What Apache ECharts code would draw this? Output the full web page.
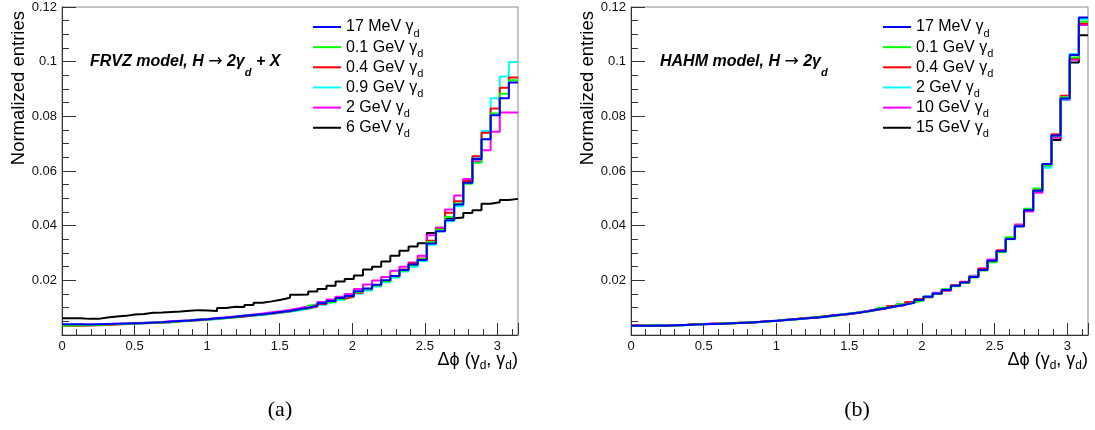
<!DOCTYPE html>
<html><head><meta charset="utf-8">
<script src="https://cdn.jsdelivr.net/npm/echarts@6/dist/echarts.min.js"></script>
<style>html,body{margin:0;padding:0;background:#fff}#c{width:1095px;height:430px}</style>
</head><body><div id="c"></div>
<script>
// ---------- data ----------
const nBins = 50;
const xTickLabels = ['0', '0.5', '1', '1.5', '2', '2.5', '3'];
const yTickLabels = ['0.02', '0.04', '0.06', '0.08', '0.1', '0.12'];
const leftLabels = ['17 MeV', '0.1 GeV', '0.4 GeV', '0.9 GeV', '2 GeV', '6 GeV'];
const rightLabels = ['17 MeV', '0.1 GeV', '0.4 GeV', '2 GeV', '10 GeV', '15 GeV'];
const seriesColors = ['#0000ff', '#00ff00', '#ff0000', '#00ffff', '#ff00ff', '#000000'];

// (a) FRVZ model
const frvz17MeV = [0.0039,0.0039,0.0038,0.0039,0.0040,0.0041,0.0042,0.0043,0.0044,0.0046,
  0.0047,0.0049,0.0051,0.0053,0.0056,0.0058,0.0061,0.0063,0.0067,0.0070,
  0.0073,0.0076,0.0080,0.0084,0.0088,0.0094,0.0100,0.0107,0.0116,0.0124,
  0.0135,0.0143,0.0160,0.0170,0.0184,0.0200,0.0216,0.0238,0.0258,0.0274,
  0.0335,0.0380,0.0420,0.0477,0.0557,0.0644,0.0716,0.0804,0.0866,0.0924];
const frvz01GeV = [0.0035,0.0036,0.0036,0.0037,0.0038,0.0040,0.0041,0.0042,0.0044,0.0046,
  0.0046,0.0048,0.0050,0.0053,0.0057,0.0058,0.0060,0.0062,0.0066,0.0071,
  0.0072,0.0075,0.0079,0.0083,0.0088,0.0092,0.0099,0.0108,0.0117,0.0122,
  0.0132,0.0142,0.0157,0.0168,0.0181,0.0197,0.0214,0.0236,0.0255,0.0277,
  0.0340,0.0385,0.0432,0.0481,0.0553,0.0630,0.0716,0.0810,0.0883,0.0932];
const frvz04GeV = [0.0034,0.0034,0.0035,0.0036,0.0037,0.0038,0.0040,0.0042,0.0043,0.0044,
  0.0046,0.0047,0.0050,0.0052,0.0054,0.0057,0.0059,0.0062,0.0065,0.0068,
  0.0071,0.0075,0.0078,0.0082,0.0087,0.0093,0.0098,0.0104,0.0113,0.0122,
  0.0133,0.0140,0.0155,0.0167,0.0182,0.0198,0.0216,0.0240,0.0262,0.0280,
  0.0345,0.0388,0.0447,0.0489,0.0563,0.0654,0.0740,0.0829,0.0905,0.0942];
const frvz09GeV = [0.0037,0.0037,0.0036,0.0037,0.0038,0.0039,0.0040,0.0041,0.0043,0.0044,
  0.0045,0.0047,0.0049,0.0051,0.0053,0.0056,0.0058,0.0061,0.0064,0.0067,
  0.0070,0.0073,0.0077,0.0081,0.0085,0.0090,0.0096,0.0103,0.0111,0.0119,
  0.0128,0.0138,0.0152,0.0163,0.0177,0.0193,0.0210,0.0232,0.0250,0.0270,
  0.0330,0.0380,0.0416,0.0471,0.0559,0.0650,0.0746,0.0866,0.0946,0.0999];
const frvz2GeV = [0.0037,0.0038,0.0038,0.0038,0.0040,0.0041,0.0042,0.0044,0.0045,0.0046,
  0.0048,0.0050,0.0052,0.0054,0.0057,0.0059,0.0062,0.0065,0.0068,0.0071,
  0.0075,0.0079,0.0083,0.0087,0.0092,0.0098,0.0105,0.0112,0.0121,0.0130,
  0.0140,0.0150,0.0168,0.0185,0.0199,0.0212,0.0235,0.0250,0.0265,0.0290,
  0.0365,0.0392,0.0459,0.0510,0.0571,0.0636,0.0676,0.0744,0.0814,0.0814];
const frvz6GeV = [0.0061,0.0061,0.0059,0.0059,0.0064,0.0068,0.0070,0.0075,0.0077,0.0081,
  0.0082,0.0084,0.0086,0.0089,0.0091,0.0090,0.0088,0.0099,0.0103,0.0102,
  0.0110,0.0118,0.0123,0.0129,0.0136,0.0147,0.0148,0.0159,0.0168,0.0180,
  0.0196,0.0205,0.0218,0.0240,0.0250,0.0269,0.0290,0.0308,0.0324,0.0336,
  0.0373,0.0392,0.0427,0.0430,0.0446,0.0456,0.0480,0.0486,0.0494,0.0498];

// (b) HAHM model
const hahm17MeV = [0.0034,0.0034,0.0035,0.0034,0.0036,0.0037,0.0038,0.0039,0.0040,0.0041,
  0.0043,0.0044,0.0046,0.0048,0.0050,0.0052,0.0055,0.0058,0.0060,0.0063,
  0.0066,0.0070,0.0074,0.0078,0.0082,0.0087,0.0093,0.0099,0.0105,0.0111,
  0.0118,0.0128,0.0140,0.0152,0.0165,0.0180,0.0192,0.0212,0.0238,0.0272,
  0.0306,0.0351,0.0398,0.0456,0.0528,0.0626,0.0730,0.0865,0.1024,0.1162];
const hahm01GeV = [0.0033,0.0035,0.0035,0.0034,0.0035,0.0037,0.0038,0.0040,0.0040,0.0042,
  0.0043,0.0044,0.0047,0.0048,0.0049,0.0052,0.0056,0.0057,0.0060,0.0064,
  0.0067,0.0069,0.0073,0.0079,0.0083,0.0086,0.0092,0.0100,0.0104,0.0112,
  0.0119,0.0126,0.0138,0.0151,0.0167,0.0178,0.0190,0.0210,0.0236,0.0266,
  0.0303,0.0358,0.0398,0.0462,0.0536,0.0622,0.0728,0.0870,0.1015,0.1147];
const hahm04GeV = [0.0035,0.0034,0.0034,0.0035,0.0036,0.0037,0.0039,0.0039,0.0041,0.0041,
  0.0044,0.0045,0.0045,0.0048,0.0051,0.0052,0.0055,0.0059,0.0061,0.0062,
  0.0067,0.0071,0.0073,0.0077,0.0081,0.0088,0.0092,0.0098,0.0106,0.0110,
  0.0120,0.0130,0.0138,0.0150,0.0163,0.0182,0.0194,0.0213,0.0242,0.0270,
  0.0310,0.0352,0.0400,0.0460,0.0532,0.0624,0.0734,0.0875,0.1012,0.1140];
const hahm2GeV = [0.0034,0.0034,0.0035,0.0034,0.0036,0.0036,0.0038,0.0039,0.0040,0.0041,
  0.0043,0.0045,0.0046,0.0047,0.0050,0.0053,0.0055,0.0058,0.0061,0.0063,
  0.0065,0.0070,0.0075,0.0078,0.0081,0.0087,0.0093,0.0098,0.0105,0.0112,
  0.0118,0.0129,0.0141,0.0151,0.0166,0.0182,0.0191,0.0215,0.0238,0.0270,
  0.0304,0.0350,0.0400,0.0458,0.0528,0.0612,0.0728,0.0862,0.1028,0.1156];
const hahm10GeV = [0.0034,0.0033,0.0034,0.0035,0.0036,0.0037,0.0038,0.0040,0.0041,0.0042,
  0.0042,0.0045,0.0046,0.0048,0.0050,0.0053,0.0055,0.0058,0.0060,0.0063,
  0.0066,0.0070,0.0074,0.0077,0.0083,0.0088,0.0093,0.0099,0.0104,0.0110,
  0.0119,0.0127,0.0140,0.0155,0.0163,0.0180,0.0195,0.0217,0.0243,0.0276,
  0.0308,0.0352,0.0404,0.0452,0.0520,0.0624,0.0722,0.0860,0.1007,0.1134];
const hahm15GeV = [0.0034,0.0034,0.0034,0.0035,0.0036,0.0037,0.0039,0.0040,0.0041,0.0042,
  0.0043,0.0045,0.0046,0.0048,0.0050,0.0052,0.0056,0.0058,0.0062,0.0064,
  0.0068,0.0071,0.0075,0.0079,0.0082,0.0088,0.0095,0.0099,0.0104,0.0112,
  0.0120,0.0131,0.0140,0.0152,0.0166,0.0180,0.0193,0.0214,0.0240,0.0272,
  0.0305,0.0352,0.0398,0.0455,0.0525,0.0620,0.0713,0.0862,0.0997,0.1097];

const leftSets = [frvz17MeV, frvz01GeV, frvz04GeV, frvz09GeV, frvz2GeV, frvz6GeV];
const rightSets = [hahm17MeV, hahm01GeV, hahm04GeV, hahm2GeV, hahm10GeV, hahm15GeV];

// ---------- chart ----------
const FONT = '"Liberation Sans", Arial, Helvetica, sans-serif';
const xMax = Math.PI;
const binW = xMax / nBins;

function histPoints(vals) {
  const pts = vals.map((v, i) => [i * binW, v]);
  pts.push([xMax, vals[vals.length - 1]]);
  return pts;
}

const grids = [
  { left: 62, top: 7, width: 456, bottom: 95 },
  { left: 631, top: 7, width: 457, bottom: 95 }
];

function xAxisCfg(idx) {
  return {
    type: 'value', gridIndex: idx, min: 0, max: xMax, interval: 0.5,
    axisLine: { show: true, lineStyle: { color: '#333', width: 1 } },
    axisTick: { show: true, inside: true, length: 12, lineStyle: { color: '#333' } },
    minorTick: { show: true, splitNumber: 5, length: 6, lineStyle: { color: '#333' } },
    splitLine: { show: false }, minorSplitLine: { show: false },
    axisLabel: {
      show: true, margin: 5, color: '#111', fontFamily: FONT, fontSize: 13,
      showMaxLabel: false,
      formatter: v => {
        const i = Math.round(v / 0.5);
        return Math.abs(v - i * 0.5) < 1e-6 ? (xTickLabels[i] || '') : '';
      }
    }
  };
}
function yAxisCfg(idx) {
  return {
    type: 'value', gridIndex: idx, min: 0, max: 0.12, interval: 0.02,
    axisLine: { show: true, lineStyle: { color: '#333', width: 1 } },
    axisTick: { show: true, inside: true, length: 14, lineStyle: { color: '#333' } },
    minorTick: { show: true, splitNumber: 4, length: 7, lineStyle: { color: '#333' } },
    splitLine: { show: false }, minorSplitLine: { show: false },
    axisLabel: {
      show: true, margin: 5, color: '#111', fontFamily: FONT, fontSize: 13,
      formatter: v => {
        const i = Math.round(v / 0.02);
        return i === 0 ? '' : (yTickLabels[i - 1] || '');
      }
    }
  };
}

const series = [];
[[leftLabels, leftSets, 0], [rightLabels, rightSets, 1]].forEach(([labels, sets, p]) => {
  for (let k = labels.length - 1; k >= 0; k--) {
    series.push({
      type: 'line', name: p + '|' + labels[k], xAxisIndex: p, yAxisIndex: p,
      step: 'end', showSymbol: false, symbol: 'none', clip: true,
      color: seriesColors[k],
      lineStyle: { color: seriesColors[k], width: 2 },
      data: histPoints(sets[k])
    });
  }
});

const legendText = {
  fontFamily: FONT, fontSize: 16, color: '#000', lineHeight: 18,
  rich: {
    s: { fontFamily: FONT, fontSize: 11, lineHeight: 2, verticalAlign: 'top', padding: [10, 0, 0, 0], color: '#000' }
  }
};
function legendCfg(labels, p, left) {
  return {
    orient: 'vertical', left: left, top: 18, padding: 0, itemGap: -0.85,
    itemWidth: 28, itemHeight: 2, icon: 'rect',
    data: labels.map(l => p + '|' + l),
    formatter: name => name.split('|')[1] + ' \u03b3{s|d}',
    textStyle: legendText,
    selectedMode: false
  };
}

const annRich = {
  a: { fontFamily: '"DejaVu Sans", sans-serif', fontSize: 17, fontWeight: 'normal', lineHeight: 18, fill: '#000' },
  s: { fontFamily: FONT, fontSize: 11, fontWeight: 'bold', fontStyle: 'italic', lineHeight: 2, verticalAlign: 'top', padding: [14, 0, 0, 0], fill: '#000' }
};
const xTitleRich = { s: { fontFamily: FONT, fontSize: 12, lineHeight: 2, verticalAlign: 'top', padding: [10, 0, 0, 0], fill: '#000' } };

function textEl(x, y, text, extra) {
  return Object.assign({ type: 'text', x: x, y: y, silent: true,
    style: Object.assign({ text: text, fill: '#000', fontFamily: FONT }, extra) });
}

const graphic = [
  // y-axis titles
  Object.assign(textEl(19, 11, 'Normalized entries', { fontSize: 18.5, align: 'right', verticalAlign: 'middle' }), { rotation: Math.PI / 2 }),
  Object.assign(textEl(588, 11, 'Normalized entries', { fontSize: 18.5, align: 'right', verticalAlign: 'middle' }), { rotation: Math.PI / 2 }),
  // x-axis titles
  textEl(518, 360, '\u0394\u03d5 (\u03b3{s|d}, \u03b3{s|d})', { fontSize: 18, lineHeight: 20, align: 'right', verticalAlign: 'middle', rich: xTitleRich }),
  textEl(1088, 360, '\u0394\u03d5 (\u03b3{s|d}, \u03b3{s|d})', { fontSize: 18, lineHeight: 20, align: 'right', verticalAlign: 'middle', rich: xTitleRich }),
  // annotations
  textEl(90, 62, 'FRVZ model, H {a|\u2192} 2\u03b3{s|d} + X', { fontSize: 16, lineHeight: 18, fontWeight: 'bold', fontStyle: 'italic', align: 'left', verticalAlign: 'middle', rich: annRich }),
  textEl(660, 62, 'HAHM model, H {a|\u2192} 2\u03b3{s|d}', { fontSize: 16, lineHeight: 18, fontWeight: 'bold', fontStyle: 'italic', align: 'left', verticalAlign: 'middle', rich: annRich }),
  // captions
  textEl(280, 410, '(a)', { fontFamily: '"Liberation Serif", "Times New Roman", serif', fontSize: 22, align: 'center', verticalAlign: 'middle' }),
  textEl(857, 410, '(b)', { fontFamily: '"Liberation Serif", "Times New Roman", serif', fontSize: 22, align: 'center', verticalAlign: 'middle' })
];

const chart = echarts.init(document.getElementById('c'), null, { renderer: 'canvas' });
chart.setOption({
  animation: false,
  backgroundColor: '#fff',
  grid: grids.map(g => Object.assign({ show: true, borderColor: '#888', borderWidth: 1, backgroundColor: 'transparent' }, g)),
  xAxis: [xAxisCfg(0), xAxisCfg(1)],
  yAxis: [yAxisCfg(0), yAxisCfg(1)],
  legend: [legendCfg(leftLabels, 0, 313), legendCfg(rightLabels, 1, 883)],
  series: series,
  graphic: graphic
});
</script>
</body></html>
